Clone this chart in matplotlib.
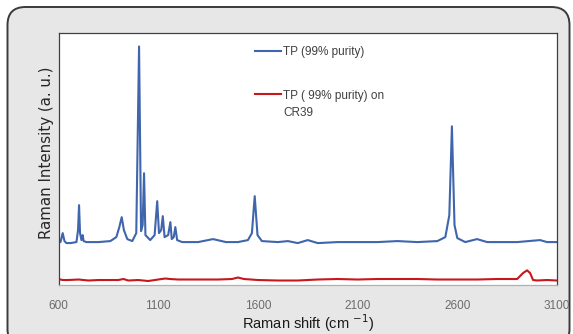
import matplotlib.pyplot as plt
from matplotlib.patches import FancyBboxPatch

# Raman shift (cm-1) and intensity (a.u.)
tp_shift = [600, 610, 621, 630, 640, 660, 690, 698, 703, 708, 715, 721, 726, 740, 800,
            860, 890, 905, 917, 928, 945, 970, 990, 1004, 1014, 1022, 1029, 1036, 1060,
            1082, 1095, 1104, 1115, 1123, 1132, 1150, 1161, 1168, 1178, 1186, 1195, 1220,
            1300, 1375, 1440, 1500, 1550, 1570, 1584, 1598, 1620, 1700, 1750, 1800, 1850,
            1900, 2000, 2100, 2200, 2300, 2400, 2500, 2540, 2560, 2573, 2586, 2600, 2640,
            2699, 2750, 2800, 2900, 3015, 3050, 3100]
tp_int = [44, 43, 52, 44, 42, 42, 43, 55, 80, 52, 45, 50, 44, 43, 43,
          44, 48, 58, 68, 55, 46, 44, 52, 239, 54, 60, 112, 50, 45,
          50, 84, 52, 55, 69, 48, 50, 63, 46, 48, 58, 45, 43,
          43, 46, 43, 43, 45, 52, 89, 50, 44, 43, 44, 42, 45,
          42, 43, 43, 43, 44, 43, 44, 48, 70, 159, 60, 47, 43,
          46, 43, 43, 43, 45, 43, 43]

cr39_shift = [600, 620, 650, 700, 750, 800, 850, 900, 926, 950, 1000, 1050, 1100, 1135,
              1160, 1200, 1300, 1400, 1470, 1500, 1530, 1600, 1700, 1800, 1900, 2000,
              2100, 2200, 2300, 2400, 2500, 2600, 2700, 2800, 2900, 2930, 2950, 2965,
              2980, 3000, 3050, 3100]
cr39_int = [6, 5, 5, 5.5, 4.5, 5, 5, 5, 6, 4.5, 5, 4, 5.5, 6.5,
            6, 5.5, 5.5, 5.5, 6, 7.5, 6, 5, 4.5, 4.5, 5.5, 6,
            5.5, 6, 6, 6, 5.5, 5.5, 5.5, 6, 6, 12, 14.7, 12,
            5, 4.5, 5, 4.5]

xticks = [600, 1100, 1600, 2100, 2600, 3100]

fig = plt.figure(figsize=(5.73, 3.34), dpi=100)

# grey rounded panel behind the chart, drawn in pixel units
bg = fig.add_axes([0, 0, 1, 1])
bg.set_xlim(0, 573)
bg.set_ylim(334, 0)
bg.axis('off')
panel = FancyBboxPatch((7.5, 7), 562, 340, boxstyle="round,pad=0,rounding_size=18",
                       facecolor='#e7e7e7', edgecolor='#3a3a3a', linewidth=1.4)
bg.add_patch(panel)

ax = fig.add_axes([58.5 / 573, 1 - 285 / 334, (557 - 58.5) / 573, (285 - 32.5) / 334])
ax.set_facecolor('white')
ax.plot(tp_shift, tp_int, color='#3f65ad', linewidth=1.5, label='TP (99% purity)')
ax.plot(cr39_shift, cr39_int, color='#c8161d', linewidth=1.5, label='TP ( 99% purity) on\nCR39')

ax.set_xlim(600, 3100)
ax.set_ylim(0, 253)
ax.set_xticks(xticks)
ax.set_yticks([])
ax.tick_params(axis='x', length=0, pad=11, labelsize=8.5, labelcolor='#6b6b6b')
for lbl in ax.get_xticklabels():
    lbl.set_family(['Liberation Sans'])

for side in ['top', 'right', 'left']:
    ax.spines[side].set_color('#404040')
    ax.spines[side].set_linewidth(0.9)
ax.spines['bottom'].set_color('#b0b0b0')
ax.spines['bottom'].set_linewidth(0.9)

ax.set_xlabel('Raman shift (cm $^{-1}$)', fontsize=10.5, color='#1a1a1a',
              family=['Liberation Sans', 'DejaVu Sans'], labelpad=0)
ax.set_ylabel('Raman Intensity (a. u.)', fontsize=10.8, color='#262626')
ax.yaxis.set_label_coords(-0.01, 0.525)

leg = ax.legend(loc='upper left', bbox_to_anchor=(0.394, 0.945), frameon=False,
                borderpad=0, borderaxespad=0,
                handlelength=2.2, handletextpad=0.2, labelspacing=2.65,
                prop={'family': ['Liberation Sans', 'DejaVu Sans'], 'size': 8.5})
for t in leg.get_texts():
    t.set_color('#404040')
    t.set_linespacing(1.55)
# put each handle level with the first line of its label
for column in leg._legend_handle_box.get_children():
    for row in column.get_children():
        row.align = 'top'

fig.savefig('out.png', dpi=100)
